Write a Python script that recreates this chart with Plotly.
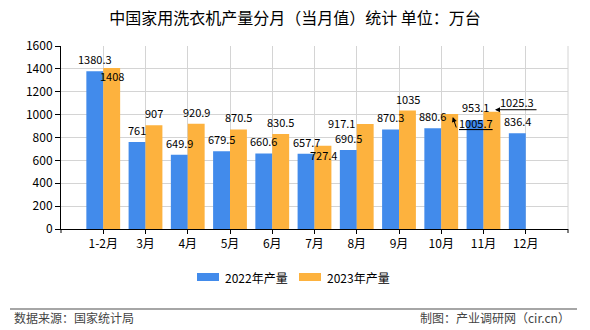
import plotly.graph_objects as go

# ---------------- data ----------------
months = ['1-2月', '3月', '4月', '5月', '6月', '7月', '8月', '9月', '10月', '11月', '12月']
y2022 = [1380.3, 761, 649.9, 679.5, 660.6, 657.7, 690.5, 870.3, 880.6, 953.1, 836.4]
y2023 = [1408, 907, 920.9, 870.5, 830.5, 727.4, 917.1, 1035, 1005.7, 1025.3, None]
series_names = ['2022年产量', '2023年产量']
y_ticks = [0, 200, 400, 600, 800, 1000, 1200, 1400, 1600]

# ---------------- style ----------------
BLUE = '#428BEB'
ORANGE = '#FDB23E'
GRID = '#d4d4d4'
FONT = 'Noto Sans CJK SC, Noto Sans, sans-serif'
W, H = 590, 330
L, R, T, B = 61, 22, 46, 101
PW, PH = W - L - R, H - T - B


def px(X):
    return (X - L) / PW


def py(Y):
    return (H - B - Y) / PH


fig = go.Figure()
fig.add_trace(go.Bar(x=months, y=y2022, name=series_names[0], marker_color=BLUE,
                     marker_line_width=0))
fig.add_trace(go.Bar(x=months, y=y2023, name=series_names[1], marker_color=ORANGE,
                     marker_line_width=0))

annotations = []
HALF = 8.5  # half bar offset in px
# special label offsets (series, index) -> (dx, dy)
special = {
    (1, 0): (0, -8),
    (1, 5): (0, -9),
    (1, 6): (-24, 1),
    (1, 8): (26, -9),
    (1, 9): (25, 10),
}
for s, (vals, sign) in enumerate([(y2022, -1), (y2023, 1)]):
    for i, v in enumerate(vals):
        if v is None:
            continue
        dx, dy = special.get((s, i), (0, 12))
        if (s, i) == (0, 9):
            dy = 13
        txt = f'{v:g}'
        if (s, i) == (1, 8):
            txt = f'<u>{txt}</u>'
        annotations.append(dict(
            x=months[i], y=v, xref='x', yref='y', text=txt, showarrow=False,
            xanchor='center', yanchor='middle', xshift=sign * HALF + dx, yshift=dy,
            font=dict(family=FONT, size=11, color='#000')))

# leader arrows
annotations.append(dict(x=months[8], y=y2023[8], xref='x', yref='y', text='',
                        showarrow=True, arrowhead=2, arrowsize=1, arrowwidth=1,
                        arrowcolor='#000', ax=4, ay=12, xshift=HALF + 3, yshift=-3))
annotations.append(dict(x=months[9], y=y2023[9], xref='x', yref='y', text='',
                        showarrow=True, arrowhead=2, arrowsize=1, arrowwidth=1,
                        arrowcolor='#000', ax=43, ay=0, xshift=HALF + 3, yshift=2))

# legend (manual)
shapes = []
for k, (name, col, bx) in enumerate([(series_names[0], BLUE, 197), (series_names[1], ORANGE, 299)]):
    shapes.append(dict(type='rect', xref='paper', yref='paper',
                       x0=px(bx), x1=px(bx + 22), y0=py(281), y1=py(273),
                       fillcolor=col, line_width=0))
    annotations.append(dict(xref='paper', yref='paper', x=px(bx + 26), y=py(277),
                            text=name, showarrow=False, xanchor='left', yanchor='middle',
                            font=dict(family=FONT, size=12, color='#000')))

# right border and end ticks
shapes.append(dict(type='line', xref='paper', yref='paper', x0=1, x1=1, y0=0, y1=1,
                   line=dict(color=GRID, width=1)))
for xe in (0, 1):
    shapes.append(dict(type='line', xref='paper', yref='paper', x0=xe, x1=xe,
                       y0=0, y1=-4 / PH, line=dict(color='#000', width=1)))

# footer
shapes.append(dict(type='line', xref='paper', yref='paper', x0=px(10), x1=px(577),
                   y0=py(309), y1=py(309), line=dict(color='#888', width=1.5)))
annotations.append(dict(xref='paper', yref='paper', x=px(12), y=py(317),
                        text='数据来源：国家统计局', showarrow=False, xanchor='left',
                        yanchor='middle', font=dict(family=FONT, size=12, color='#444')))
annotations.append(dict(xref='paper', yref='paper', x=px(572), y=py(317),
                        text='制图：产业调研网（cir.cn）', showarrow=False, xanchor='right',
                        yanchor='middle', font=dict(family=FONT, size=12, color='#444')))

fig.update_layout(
    width=W, height=H,
    margin=dict(l=L, r=R, t=T, b=B, pad=0),
    paper_bgcolor='white', plot_bgcolor='white',
    barmode='group', bargap=0.2, bargroupgap=0,
    showlegend=False,
    title=dict(text='中国家用洗衣机产量分月（当月值）统计 单位：万台',
               x=0.5, xanchor='center', y=1 - 18 / H, yanchor='middle',
               xref='container', yref='container',
               font=dict(family=FONT, size=16, color='#000')),
    xaxis=dict(type='category', range=[-1, 11], showgrid=True, gridcolor=GRID,
               gridwidth=1, showline=True, linecolor='#000', linewidth=1,
               ticks='outside', ticklen=4, tickcolor='#000',
               tickfont=dict(family=FONT, size=12, color='#000'), zeroline=False),
    yaxis=dict(range=[0, 1600], tickvals=y_ticks, showgrid=True, gridcolor=GRID,
               gridwidth=1, showline=True, linecolor='#000', linewidth=1,
               ticks='outside', ticklen=5, tickcolor='#000',
               tickfont=dict(family=FONT, size=12, color='#000'), zeroline=False),
    annotations=annotations,
    shapes=shapes,
)

fig.write_html('out.html')
